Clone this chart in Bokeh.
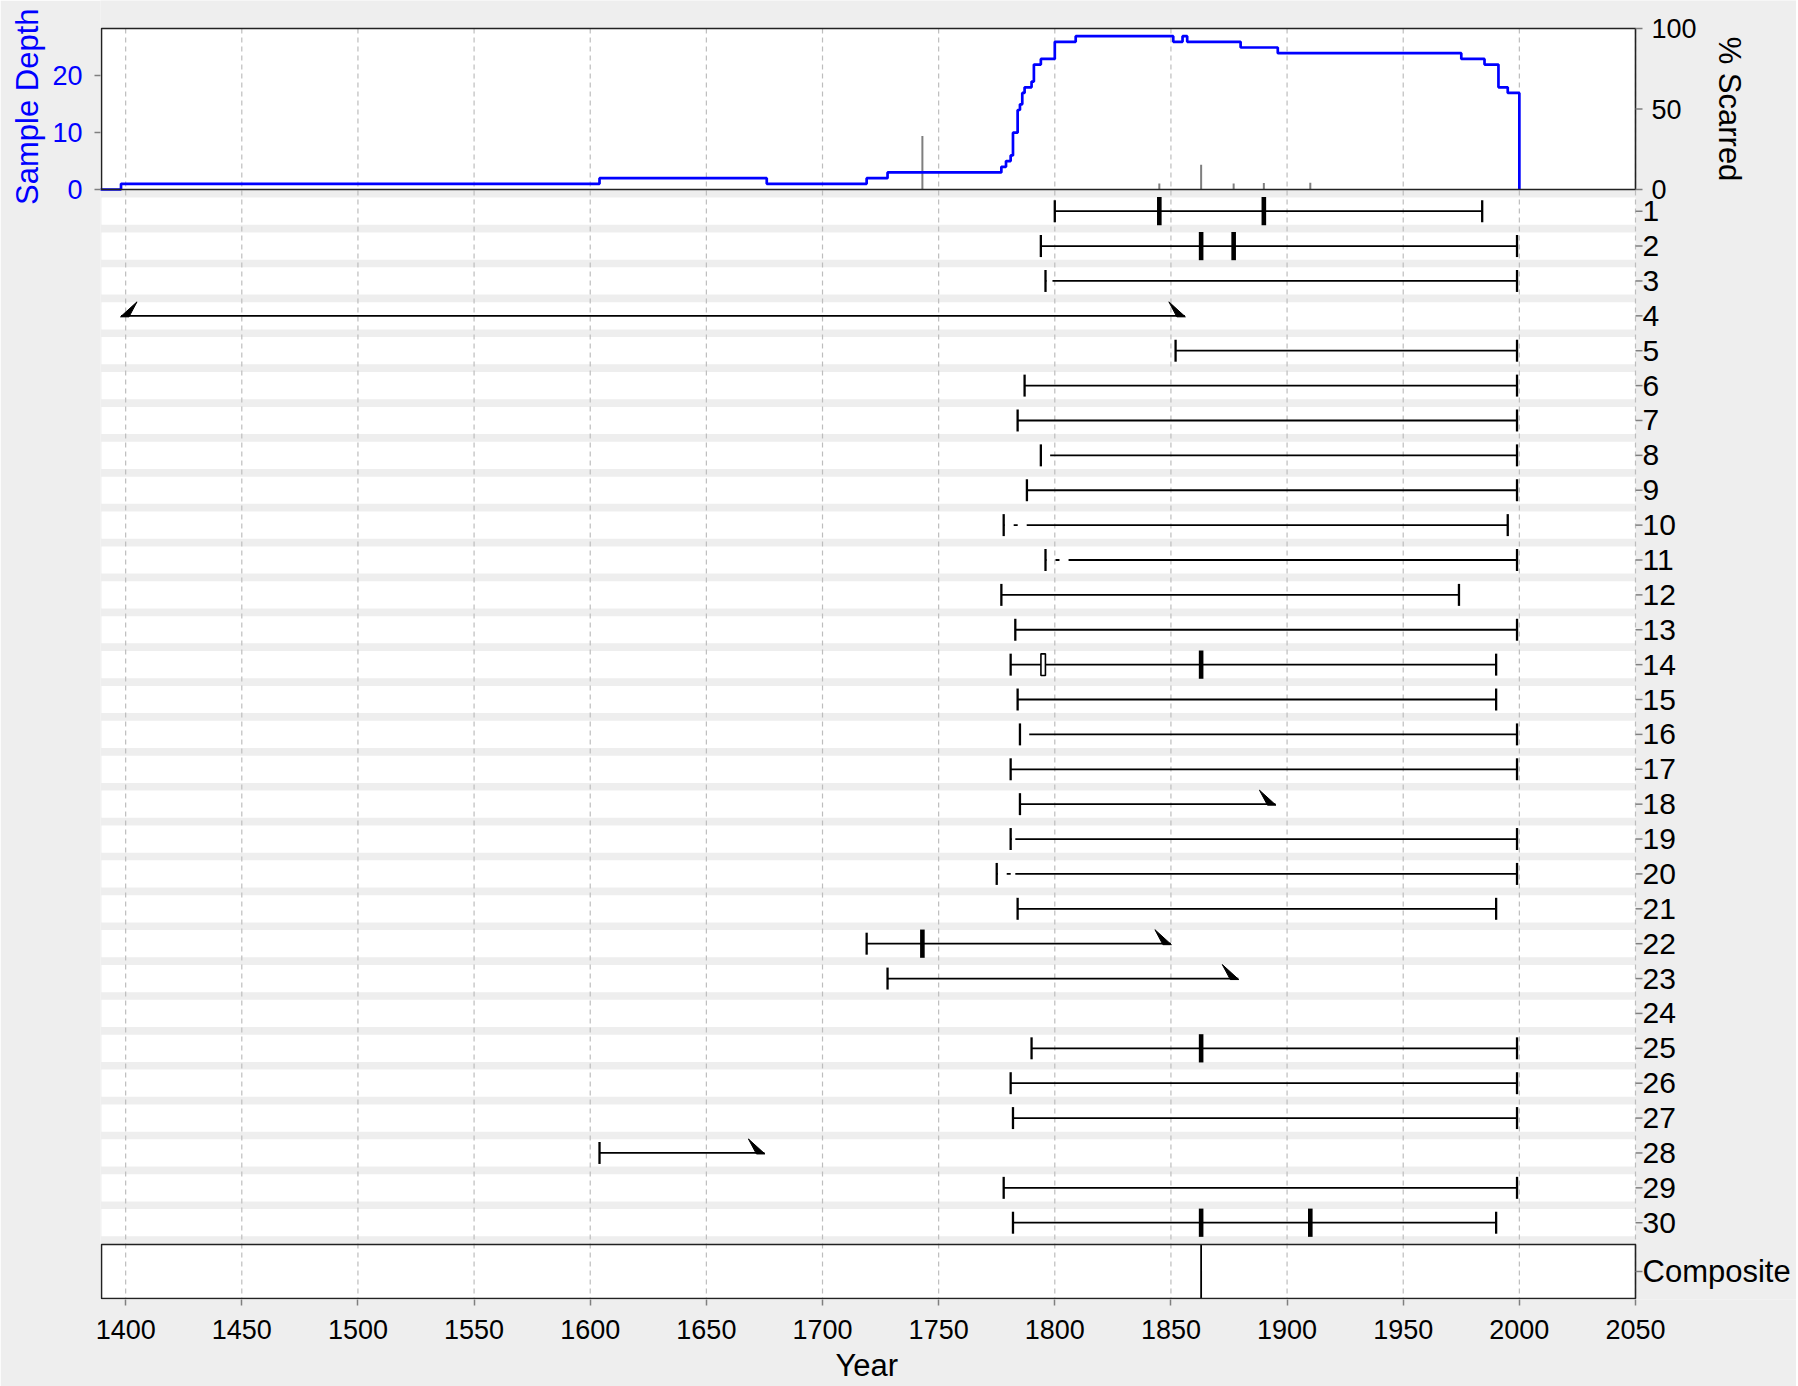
from math import pi
from bokeh.plotting import figure
from bokeh.models import Range1d, LinearAxis, FixedTicker, Title
from bokeh.core.properties import value
from bokeh.embed import file_html
from bokeh.resources import INLINE

# ---------------- data ----------------
series_ids = list(range(1, 31))
series_labels = [str(s) for s in series_ids]
first_year = [1800, 1794, 1796, 1398, 1852, 1787, 1784, 1794, 1788, 1778,
              1796, 1777, 1783, 1781, 1784, 1785, 1781, 1785, 1781, 1775,
              1784, 1719, 1728, None, 1790, 1781, 1782, 1604, 1778, 1782]
last_year = [1984, 1999, 1999, 1856, 1999, 1999, 1999, 1999, 1999, 1995,
             1999, 1974, 1999, 1990, 1990, 1999, 1999, 1895, 1999, 1999,
             1990, 1850, 1879, None, 1999, 1999, 1999, 1675, 1999, 1990]
# "pith"/"bark" = vertical bar, "inner"/"outer" = wedge
first_type = ["pith"] * 30
first_type[3] = "inner"
last_type = ["bark"] * 30
for i in (4, 18, 22, 23, 28):
    last_type[i - 1] = "outer"
# first recorder year (non-recorder years before it are dashed)
recorder_start = [None, None, 1799, None, None, None, None, 1798, None, 1788,
                  1806, None, None, None, None, 1789, None, None, 1783, 1783,
                  None, None, None, None, None, None, None, None, None, None]

scar_series = [1, 1, 2, 2, 14, 22, 25, 30, 30]
scar_years = [1845, 1890, 1863, 1877, 1863, 1743, 1863, 1863, 1910]
injury_series = [14]
injury_years = [1795]
composite_years = [1863]

pct_years = [1743, 1845, 1863, 1877, 1890, 1910]
pct_scarred = [33.3, 3.7, 15.4, 3.8, 4.0, 4.2]

depth_years = [1389, 1398, 1604, 1676, 1719, 1728, 1777, 1779, 1781, 1782,
               1784, 1785, 1786, 1787, 1790, 1791, 1794, 1800, 1809, 1851,
               1855, 1857, 1880, 1896, 1975, 1985, 1991, 1995, 2000]
depth_values = [0, 1, 2, 1, 2, 3, 4, 5, 6, 10,
                14, 15, 17, 18, 19, 22, 23, 26, 27, 26,
                27, 26, 25, 24, 23, 22, 18, 17, 0]

year_ticks = list(range(1400, 2051, 50))
depth_ticks = [0, 10, 20]
pct_ticks = [0, 50, 100]
pct_labels = [str(v) for v in pct_ticks]

# ---------------- layout constants (pixels) ----------------
FONT = "Liberation Sans"
BG = "#EEEEEE"
GRID = "#BDBDBD"
TICK = "#7F7F7F"
W, H = 1796, 1386
YEAR_L, YEAR_R = 1389.6, 2050.0
BOX_L, BOX_R = 101, 1635
PPY = (BOX_R - BOX_L) / (YEAR_R - YEAR_L)
FR_L, FR_R, FR_T, FR_B = 100, W, 0, 1299
DEPTH_MAX = 28.35
TOP_T, TOP_B = 28, 189          # top panel box
ROW1, ROWSTEP = 210.7, 34.88    # row centres
COMP_T, COMP_B = 1244, 1298     # composite box


def rng(v0, p0, v1, p1):
    """Range whose values v0, v1 fall at pixel rows p0, p1 (y down)."""
    k = (v1 - v0) / (p1 - p0)
    return Range1d(v0 + (FR_B - p0) * k, v0 + (FR_T - p0) * k)


def row_at(px):
    return 1 + (px - ROW1) / ROWSTEP


x_range = Range1d(YEAR_L - (BOX_L - FR_L) / PPY, YEAR_R + (FR_R - BOX_R) / PPY)
y_range = rng(1, ROW1, 2, ROW1 + ROWSTEP)

p = figure(width=W, height=H, x_range=x_range, y_range=y_range,
           output_backend="svg", toolbar_location=None, title_location=None,
           min_border_left=FR_L, min_border_right=W - FR_R,
           min_border_top=FR_T, min_border_bottom=H - FR_B,
           y_axis_location=None,
           background_fill_color=BG, border_fill_color=BG,
           outline_line_color=None)
p.extra_y_ranges = {
    "depth": rng(0, TOP_B, DEPTH_MAX, TOP_T),
    "pct": rng(0, TOP_B, 100, TOP_T),
    "comp": rng(0, COMP_B, 1, COMP_T),
}
p.xgrid.visible = False
p.ygrid.visible = False


def style_axis(ax, size):
    ax.major_label_text_font = FONT
    ax.major_label_text_font_size = size
    ax.major_label_text_color = "black"
    ax.major_tick_line_color = TICK
    ax.major_tick_line_width = 1.5
    ax.major_tick_out = 6
    ax.major_tick_in = 0
    ax.minor_tick_line_color = None
    ax.axis_line_color = None


# bottom year axis
bx = p.xaxis[0]
style_axis(bx, "27px")
bx.ticker = FixedTicker(ticks=year_ticks)
bx.major_label_standoff = 14

# left axis: sample depth
ly = LinearAxis(y_range_name="depth")
style_axis(ly, "27px")
ly.ticker = FixedTicker(ticks=depth_ticks)
ly.major_label_text_color = "blue"
ly.major_label_standoff = 12
p.add_layout(ly, "left")

p.add_layout(Title(text="Sample Depth", align="right", offset=8,
                   text_font=FONT, text_font_size="31px",
                   text_font_style="normal", text_color="blue", standoff=10),
             "left")
p.add_layout(Title(text="Year", align="left", offset=735,
                   text_font=FONT, text_font_size="31px",
                   text_font_style="normal", text_color="black", standoff=8),
             "below")

# ---------------- panel backgrounds ----------------
top_bg = p.quad(left=[YEAR_L], right=[YEAR_R], bottom=[0], top=[DEPTH_MAX],
                y_range_name="depth", fill_color="white", line_color=None)
top_bg.level = "image"
bands = p.hbar(y=series_ids, left=YEAR_L, right=YEAR_R, height=0.78,
               fill_color="white", line_color=None)
bands.level = "image"
comp_bg = p.quad(left=[YEAR_L], right=[YEAR_R], bottom=[0], top=[1],
                 y_range_name="comp", fill_color="white", line_color=None)
comp_bg.level = "image"
grid = p.segment(x0=year_ticks, x1=year_ticks,
                 y0=[row_at(TOP_T)] * len(year_ticks),
                 y1=[row_at(COMP_B)] * len(year_ticks),
                 line_color=GRID, line_width=1.2, line_dash="5 4")
grid.level = "underlay"

# ---------------- top panel ----------------
p.segment(x0=pct_years, x1=pct_years, y0=[0] * len(pct_years), y1=pct_scarred,
          y_range_name="pct", line_color="#7F7F7F", line_width=2)
p.step(x=depth_years, y=depth_values, mode="after", line_color="blue",
       line_width=2.7, y_range_name="depth")
p.quad(left=[YEAR_L], right=[YEAR_R], bottom=[0], top=[DEPTH_MAX],
       y_range_name="depth", fill_color=None, line_color="#222222",
       line_width=1.6)

# ---------------- series ----------------
solid = dict(x0=[], x1=[], y=[])
dashed = dict(x0=[], x1=[], y=[])
bar_x, bar_y = [], []
wedge_xs, wedge_ys = [], []
YPX = 1.0 / ROWSTEP
XPX = 1.0 / PPY
for sid, f, l, rs, ft, lt in zip(series_ids, first_year, last_year,
                                 recorder_start, first_type, last_type):
    if f is None:
        continue
    if rs is not None:
        dashed["x0"].append(f); dashed["x1"].append(rs); dashed["y"].append(sid)
        solid["x0"].append(rs)
    else:
        solid["x0"].append(f)
    solid["x1"].append(l); solid["y"].append(sid)
    if ft == "pith":
        bar_x.append(f); bar_y.append(sid)
    else:
        wedge_xs.append([f + 16 * XPX, f + 8 * XPX, f - 0.5 * XPX])
        wedge_ys.append([sid - 14 * YPX, sid + YPX, sid + YPX])
    if lt == "bark":
        bar_x.append(l); bar_y.append(sid)
    else:
        wedge_xs.append([l - 16 * XPX, l - 8 * XPX, l + 0.5 * XPX])
        wedge_ys.append([sid - 14 * YPX, sid + YPX, sid + YPX])

p.segment(x0=solid["x0"], x1=solid["x1"], y0=solid["y"], y1=solid["y"],
          line_color="black", line_width=1.8)
p.segment(x0=dashed["x0"], x1=dashed["x1"], y0=dashed["y"], y1=dashed["y"],
          line_color="black", line_width=1.8, line_dash="4 9",
          line_dash_offset=3)
p.rect(x=bar_x, y=bar_y, width=2.3, width_units="screen", height=0.63,
       fill_color="black", line_color=None)
p.patches(xs=wedge_xs, ys=wedge_ys, fill_color="black", line_color="black",
          line_width=1)
p.rect(x=scar_years, y=scar_series, width=4.6, width_units="screen",
       height=0.81, fill_color="black", line_color=None)
p.rect(x=injury_years, y=injury_series, width=4.5, width_units="screen",
       height=0.62, fill_color="white", line_color="black", line_width=1.6)

# ---------------- composite ----------------
p.segment(x0=composite_years, x1=composite_years, y0=[0] * len(composite_years),
          y1=[1] * len(composite_years), y_range_name="comp",
          line_color="black", line_width=1.8)
p.quad(left=[YEAR_L], right=[YEAR_R], bottom=[0], top=[1],
       y_range_name="comp", fill_color=None, line_color="#222222",
       line_width=1.6)

# ---------------- right-hand scale: ticks and labels ----------------
TK = 7 * XPX
p.segment(x0=[YEAR_R] * 30, x1=[YEAR_R + TK] * 30, y0=series_ids,
          y1=series_ids, line_color=TICK, line_width=1.5)
p.segment(x0=[YEAR_R], x1=[YEAR_R + TK], y0=[0.5], y1=[0.5],
          y_range_name="comp", line_color=TICK, line_width=1.5)
p.segment(x0=[YEAR_R] * 3, x1=[YEAR_R + TK] * 3, y0=pct_ticks, y1=pct_ticks,
          y_range_name="pct", line_color=TICK, line_width=1.5)
p.text(x=[YEAR_R] * 30, y=series_ids, text=series_labels, x_offset=7,
       text_font=value(FONT), text_font_size="30px", text_color="black",
       text_align="left", text_baseline="middle")
p.text(x=[YEAR_R], y=[0.5], text=["Composite"], x_offset=7,
       y_range_name="comp", text_font=value(FONT), text_font_size="31px",
       text_color="black", text_align="left", text_baseline="middle")
p.text(x=[YEAR_R] * 3, y=pct_ticks, text=pct_labels, x_offset=16,
       y_range_name="pct", text_font=value(FONT), text_font_size="27px",
       text_color="black", text_align="left", text_baseline="middle")
p.text(x=[YEAR_R], y=[50], text=["% Scarred"], x_offset=1729 - BOX_R,
       y_range_name="pct", angle=-pi / 2, text_font=value(FONT),
       text_font_size="31px", text_color="black", text_align="center",
       text_baseline="middle")

open("out.html", "w").write(file_html(p, INLINE))
